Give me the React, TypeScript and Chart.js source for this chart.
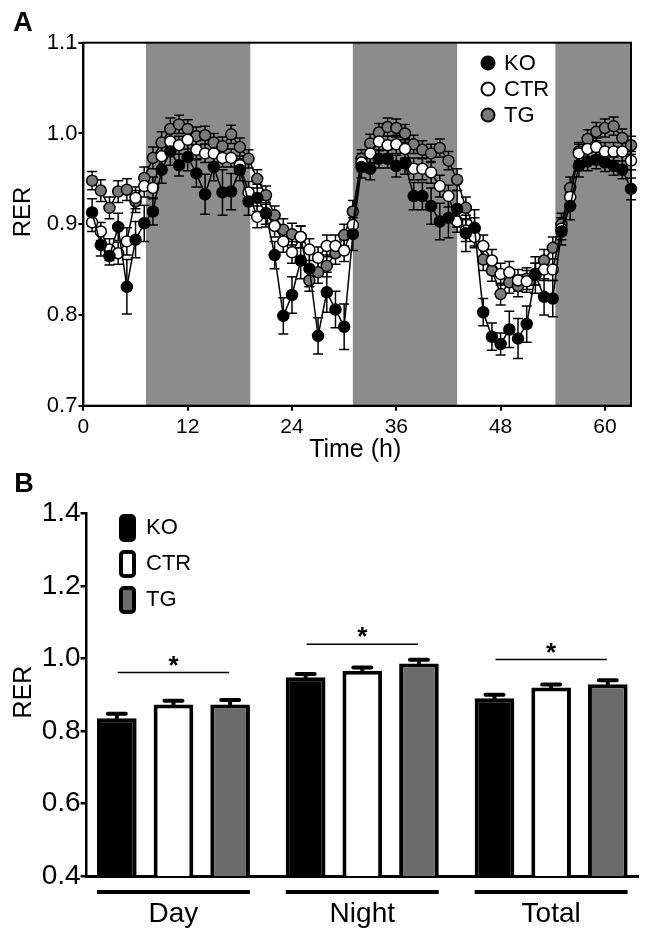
import React, { useEffect, useRef } from "react";
import { Chart, registerables } from "chart.js";
Chart.register(...registerables);

const FONT = "'Liberation Sans', Arial, Helvetica, sans-serif";

// ---------- Panel A data ----------
const hours = [1,2,3,4,5,6,7,8,9,10,11,12,13,14,15,16,17,18,19,20,21,22,23,24,25,26,27,28,29,30,31,32,33,34,35,36,37,38,39,40,41,42,43,44,45,46,47,48,49,50,51,52,53,54,55,56,57,58,59,60,61,62,63];
const xTickValues = [0, 12, 24, 36, 48, 60];
const yTickValuesA = [0.7, 0.8, 0.9, 1.0, 1.1];
const nightStart = [7.2, 31.0, 54.3];
const nightEnd = [19.2, 43.0, 63.0];

const koRer = [0.913,0.877,0.865,0.897,0.831,0.883,0.901,0.914,0.960,0.980,
  0.965,0.974,0.956,0.933,0.963,0.935,0.936,0.960,0.925,0.929,
  0.912,0.866,0.799,0.822,0.860,0.851,0.777,0.825,0.806,0.787,
  0.889,0.963,0.961,0.972,0.972,0.964,0.967,0.931,0.931,0.920,
  0.903,0.907,0.917,0.890,0.896,0.803,0.776,0.768,0.784,0.774,
  0.790,0.844,0.820,0.818,0.892,0.920,0.964,0.969,0.971,0.968,
  0.964,0.960,0.939];
const koErr = [0.015,0.012,0.010,0.015,0.030,0.020,0.020,0.015,0.015,0.015,
  0.012,0.015,0.015,0.022,0.015,0.025,0.020,0.012,0.015,0.015,
  0.015,0.015,0.020,0.020,0.020,0.020,0.020,0.022,0.020,0.025,
  0.018,0.012,0.012,0.010,0.010,0.012,0.012,0.015,0.015,0.020,
  0.020,0.022,0.020,0.020,0.020,0.015,0.015,0.012,0.020,0.022,
  0.020,0.020,0.020,0.020,0.015,0.015,0.012,0.010,0.010,0.010,
  0.010,0.010,0.012];

const ctrRer = [0.902,0.892,0.872,0.868,0.881,0.929,0.942,0.940,0.975,0.991,
  0.987,0.993,0.982,0.978,0.978,0.973,0.973,0.965,0.935,0.908,
  0.912,0.898,0.881,0.869,0.886,0.872,0.863,0.876,0.876,0.871,
  0.899,0.968,0.978,0.991,0.987,0.988,0.983,0.961,0.961,0.957,
  0.942,0.931,0.903,0.893,0.886,0.876,0.860,0.845,0.847,0.838,
  0.837,0.845,0.850,0.850,0.895,0.930,0.978,0.983,0.985,0.980,
  0.980,0.980,0.970];
const ctrErr = [0.010,0.010,0.012,0.012,0.015,0.012,0.012,0.012,0.012,0.010,
  0.010,0.010,0.010,0.010,0.010,0.010,0.010,0.010,0.012,0.012,
  0.012,0.012,0.012,0.012,0.012,0.012,0.012,0.012,0.012,0.012,
  0.012,0.010,0.010,0.010,0.010,0.010,0.010,0.012,0.012,0.012,
  0.012,0.012,0.012,0.012,0.012,0.012,0.012,0.012,0.012,0.012,
  0.012,0.012,0.012,0.012,0.012,0.012,0.010,0.010,0.010,0.010,
  0.010,0.010,0.010];

const tgRer = [0.948,0.937,0.918,0.936,0.938,0.925,0.951,0.973,0.990,1.005,
  1.010,1.005,0.997,0.998,0.990,0.986,0.999,0.985,0.972,0.950,
  0.932,0.910,0.894,0.889,0.886,0.838,0.847,0.854,0.868,0.888,
  0.914,0.972,0.989,1.001,1.007,1.006,1.000,0.988,0.982,0.978,
  0.984,0.970,0.949,0.918,0.895,0.861,0.849,0.823,0.836,0.832,
  0.840,0.845,0.860,0.874,0.900,0.940,0.980,0.994,1.002,1.006,
  1.008,0.995,0.987];
const tgErr = [0.010,0.012,0.012,0.012,0.012,0.012,0.012,0.012,0.012,0.012,
  0.010,0.010,0.010,0.010,0.010,0.010,0.010,0.010,0.010,0.010,
  0.010,0.010,0.012,0.012,0.012,0.012,0.012,0.012,0.012,0.012,
  0.012,0.010,0.010,0.010,0.010,0.010,0.010,0.010,0.010,0.010,
  0.010,0.010,0.012,0.012,0.012,0.012,0.012,0.012,0.012,0.012,
  0.012,0.012,0.012,0.012,0.012,0.012,0.010,0.010,0.010,0.010,
  0.010,0.010,0.010];

// ---------- Panel B data ----------
const periods = ["Day", "Night", "Total"];
const periodIndex = [0, 1, 2];
const koBar = [0.835, 0.948, 0.890];
const ctrBar = [0.873, 0.966, 0.920];
const tgBar = [0.873, 0.986, 0.929];
const koBarErr = [0.012, 0.009, 0.010];
const ctrBarErr = [0.010, 0.009, 0.008];
const tgBarErr = [0.012, 0.010, 0.011];
const sigLineY = [0.961, 1.039, 0.997];
const yTickValuesB = [0.4, 0.6, 0.8, 1.0, 1.2, 1.4];

const seriesNames = ["KO", "CTR", "TG"];
const SHADE = "#8c8c8c";
const TG_POINT = "#7a7a7a";
const TG_BAR = "#6b6b6b";

const plugA = {
  id: "plugA",
  beforeDatasetsDraw(chart: any) {
    const { ctx, chartArea: ca, scales } = chart;
    const x = scales.x, y = scales.y;
    ctx.save();
    ctx.fillStyle = SHADE;
    nightStart.forEach((s, i) => {
      const x0 = x.getPixelForValue(s);
      const x1 = x.getPixelForValue(nightEnd[i]);
      ctx.fillRect(x0, ca.top, x1 - x0, ca.bottom - ca.top);
    });
    ctx.strokeStyle = "#000";
    ctx.lineWidth = 1.5;
    const sets: [number[], number[]][] = [[tgRer, tgErr], [ctrRer, ctrErr], [koRer, koErr]];
    for (const [vals, errs] of sets) {
      for (let i = 0; i < hours.length; i++) {
        const px = x.getPixelForValue(hours[i]);
        const yh = y.getPixelForValue(vals[i] + errs[i]);
        const yl = y.getPixelForValue(vals[i] - errs[i]);
        ctx.beginPath();
        ctx.moveTo(px, yl); ctx.lineTo(px, yh);
        ctx.moveTo(px - 5, yh); ctx.lineTo(px + 5, yh);
        ctx.moveTo(px - 5, yl); ctx.lineTo(px + 5, yl);
        ctx.stroke();
      }
    }
    ctx.restore();
  },
  afterDatasetsDraw(chart: any) {
    const { ctx, chartArea: ca } = chart;
    ctx.save();
    ctx.strokeStyle = "#000";
    ctx.lineWidth = 2;
    ctx.strokeRect(ca.left, ca.top, ca.right - ca.left, ca.bottom - ca.top);
    ctx.restore();
  },
  afterDraw(chart: any) {
    const { ctx, chartArea: ca } = chart;
    ctx.save();
    ctx.fillStyle = "#000";
    ctx.textBaseline = "middle";
    ctx.textAlign = "center";
    ctx.font = `bold 27px ${FONT}`;
    ctx.fillText("A", 23, 24);
    ctx.font = `25px ${FONT}`;
    ctx.fillText("Time (h)", (ca.left + ca.right) / 2 - 2, 450);
    ctx.save();
    ctx.translate(23, 212);
    ctx.rotate(-Math.PI / 2);
    ctx.font = `24px ${FONT}`;
    ctx.fillText("RER", 0, 0);
    ctx.restore();
    // legend
    const fills = ["#000", "#fff", TG_POINT];
    const ly = [63, 89, 115];
    ctx.textAlign = "left";
    ctx.font = `22px ${FONT}`;
    seriesNames.forEach((n, i) => {
      ctx.beginPath();
      ctx.arc(488, ly[i], 6.5, 0, Math.PI * 2);
      ctx.fillStyle = fills[i];
      ctx.fill();
      ctx.lineWidth = 2;
      ctx.strokeStyle = "#000";
      ctx.stroke();
      ctx.fillStyle = "#000";
      ctx.fillText(n, 504, ly[i] + 1);
    });
    ctx.restore();
  },
};

const plugB = {
  id: "plugB",
  afterDatasetsDraw(chart: any) {
    const { ctx, scales } = chart;
    const x = scales.x, y = scales.y;
    ctx.save();
    ctx.strokeStyle = "#000";
    ctx.fillStyle = "#000";
    // error bars on bars
    const errs = [koBarErr, ctrBarErr, tgBarErr];
    const vals = [koBar, ctrBar, tgBar];
    ctx.lineWidth = 4;
    ctx.lineCap = "round";
    for (let d = 0; d < 3; d++) {
      const meta = chart.getDatasetMeta(d);
      meta.data.forEach((bar: any, i: number) => {
        const cx = bar.x;
        const y0 = y.getPixelForValue(vals[d][i]);
        const y1 = y.getPixelForValue(vals[d][i] + errs[d][i]);
        ctx.beginPath();
        ctx.moveTo(cx, y0); ctx.lineTo(cx, y1);
        ctx.moveTo(cx - 9, y1); ctx.lineTo(cx + 9, y1);
        ctx.stroke();
      });
    }
    ctx.lineCap = "butt";
    // significance lines
    ctx.lineWidth = 1.5;
    ctx.textAlign = "center";
    ctx.textBaseline = "middle";
    ctx.font = `bold 26px ${FONT}`;
    periodIndex.forEach((p, i) => {
      const xl = x.getPixelForValue(p - 0.295);
      const xr = x.getPixelForValue(p + 0.295);
      const ys = y.getPixelForValue(sigLineY[i]);
      ctx.beginPath();
      ctx.moveTo(xl, ys); ctx.lineTo(xr, ys);
      ctx.stroke();
      ctx.fillText("*", x.getPixelForValue(p), ys - 6);
    });
    // underlines
    ctx.lineWidth = 4;
    periodIndex.forEach((p) => {
      const xl = x.getPixelForValue(p - 0.405);
      const xr = x.getPixelForValue(p + 0.405);
      ctx.beginPath();
      ctx.moveTo(xl, 422); ctx.lineTo(xr, 422);
      ctx.stroke();
    });
    ctx.restore();
  },
  afterDraw(chart: any) {
    const { ctx } = chart;
    ctx.save();
    ctx.fillStyle = "#000";
    ctx.textBaseline = "middle";
    ctx.textAlign = "center";
    ctx.font = `bold 27px ${FONT}`;
    ctx.fillText("B", 24, 15);
    ctx.save();
    ctx.translate(24, 222);
    ctx.rotate(-Math.PI / 2);
    ctx.font = `25px ${FONT}`;
    ctx.fillText("RER", 0, 0);
    ctx.restore();
    const fills = ["#000", "#fff", TG_BAR];
    const ty = [45, 81, 117];
    ctx.textAlign = "left";
    ctx.font = `22px ${FONT}`;
    seriesNames.forEach((n, i) => {
      ctx.beginPath();
      ctx.roundRect(121, ty[i] + 1, 13, 24, 3);
      ctx.fillStyle = fills[i];
      ctx.fill();
      ctx.lineWidth = 4;
      ctx.strokeStyle = "#000";
      ctx.stroke();
      ctx.fillStyle = "#000";
      ctx.fillText(n, 146, ty[i] + 13);
    });
    ctx.restore();
  },
};

function PanelA() {
  const ref = useRef<HTMLCanvasElement>(null);
  useEffect(() => {
    const mk = (label: string, vals: number[], fill: string) => ({
      label,
      data: hours.map((h, i) => ({ x: h, y: vals[i] })),
      borderColor: "#000",
      borderWidth: 1.5,
      pointRadius: 5.5,
      pointBorderWidth: 1.5,
      pointBorderColor: "#000",
      pointBackgroundColor: fill,
      backgroundColor: fill,
      tension: 0,
      clip: false,
    });
    const chart = new Chart(ref.current!, {
      type: "line",
      data: {
        datasets: [mk("KO", koRer, "#000"), mk("CTR", ctrRer, "#fff"), mk("TG", tgRer, TG_POINT)],
      },
      options: {
        animation: false,
        responsive: false,
        devicePixelRatio: 1,
        events: [],
        layout: { padding: { top: 42.7, right: 19, left: 0, bottom: 0 } },
        plugins: { legend: { display: false }, tooltip: { enabled: false } },
        scales: {
          x: {
            type: "linear",
            min: 0,
            max: 63,
            afterBuildTicks: (s: any) => { s.ticks = xTickValues.map((v) => ({ value: v })); },
            afterFit: (s: any) => { s.height = 470 - 405.7; },
            ticks: { font: { family: FONT, size: 21 }, color: "#000", padding: 4, maxRotation: 0 },
            grid: { display: true, drawOnChartArea: false, drawTicks: true, tickLength: 5, color: "#000", lineWidth: 2 },
            border: { display: true, color: "#000", width: 2 },
          },
          y: {
            min: 0.7,
            max: 1.1,
            afterBuildTicks: (s: any) => { s.ticks = yTickValuesA.map((v) => ({ value: v })); },
            afterFit: (s: any) => { s.width = 83.4; },
            ticks: { font: { family: FONT, size: 22 }, color: "#000", padding: 1, callback: (v: any) => Number(v).toFixed(1) },
            grid: { display: true, drawOnChartArea: false, drawTicks: true, tickLength: 5, color: "#000", lineWidth: 2 },
            border: { display: true, color: "#000", width: 2 },
          },
        },
      },
      plugins: [plugA],
    } as any);
    return () => chart.destroy();
  }, []);
  return <canvas ref={ref} width={650} height={470} style={{ position: "absolute", left: 0, top: 0, width: 650, height: 470 }} />;
}

function PanelB() {
  const ref = useRef<HTMLCanvasElement>(null);
  useEffect(() => {
    const mk = (label: string, vals: number[], fill: string) => ({
      label,
      data: periodIndex.map((p, i) => ({ x: p, y: vals[i] })),
      backgroundColor: fill,
      borderColor: "#000",
      borderWidth: 4,
      borderSkipped: false,
      barPercentage: 0.7,
      categoryPercentage: 0.9,
    });
    const chart = new Chart(ref.current!, {
      type: "bar",
      data: {
        datasets: [mk("KO", koBar, "#000"), mk("CTR", ctrBar, "#fff"), mk("TG", tgBar, TG_BAR)],
      },
      options: {
        animation: false,
        responsive: false,
        devicePixelRatio: 1,
        events: [],
        layout: { padding: { top: 43.3, right: 12, left: 0, bottom: 0 } },
        plugins: { legend: { display: false }, tooltip: { enabled: false } },
        scales: {
          x: {
            type: "linear",
            min: -0.46,
            max: 2.46,
            offset: false,
            afterBuildTicks: (s: any) => { s.ticks = periodIndex.map((v) => ({ value: v })); },
            afterFit: (s: any) => { s.height = 464 - 406; },
            ticks: { font: { family: FONT, size: 28 }, color: "#000", padding: 13, maxRotation: 0, callback: (v: any) => periods[Math.round(Number(v))] },
            grid: { display: false },
            border: { display: true, color: "#000", width: 3 },
          },
          y: {
            min: 0.4,
            max: 1.4,
            afterBuildTicks: (s: any) => { s.ticks = yTickValuesB.map((v) => ({ value: v })); },
            afterFit: (s: any) => { s.width = 86.6; },
            ticks: { font: { family: FONT, size: 28 }, color: "#000", padding: 0, callback: (v: any) => Number(v).toFixed(1) },
            grid: { display: true, drawOnChartArea: false, drawTicks: true, tickLength: 6, color: "#000", lineWidth: 2.5 },
            border: { display: true, color: "#000", width: 2.5 },
          },
        },
      },
      plugins: [plugB],
    } as any);
    return () => chart.destroy();
  }, []);
  return <canvas ref={ref} width={650} height={464} style={{ position: "absolute", left: 0, top: 470, width: 650, height: 464 }} />;
}

export default function App() {
  return (
    <div style={{ position: "absolute", left: 0, top: 0, width: 650, height: 934, background: "#fff", overflow: "hidden" }}>
      <PanelA />
      <PanelB />
    </div>
  );
}
